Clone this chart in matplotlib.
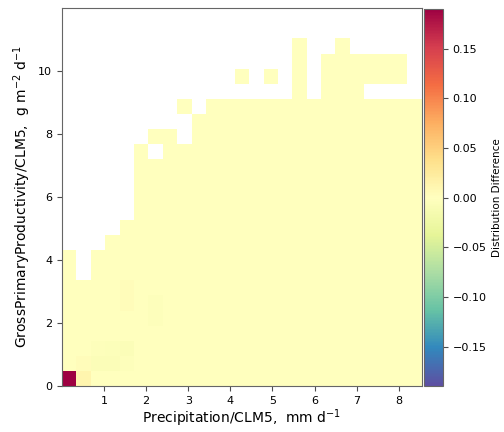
import numpy as np
import matplotlib
matplotlib.use("Agg")
import matplotlib.pyplot as plt

# histogram grid (precipitation bins x GPP bins)
precip_range = (0.0, 8.55)
gpp_range = (0.0, 12.0)
n_precip_bins = 25
n_gpp_bins = 25

# number of occupied GPP bins (from the bottom) in each precipitation column
column_tops = [9, 7, 9, 10, 11, 16, 17, 17, 19, 18, 19, 19, 21, 19, 21, 19,
               23, 19, 22, 23, 22, 22, 22, 22, 19]

# empty bins inside the occupied columns (column, row)
empty_bins = [(6, 15), (8, 16), (8, 17), (12, 19), (14, 19),
              (21, 19), (22, 19), (23, 19)]

# difference in every occupied bin unless listed below
background_diff = -0.0005

# bins with a visible difference (column, row, value)
diff_bins = [
    (0, 0, 0.19),
    (1, 0, 0.012), (1, 1, 0.004),
    (2, 1, -0.006), (3, 1, -0.007), (4, 1, -0.004),
    (3, 2, -0.005), (4, 2, -0.006), (2, 2, -0.003),
    (4, 5, 0.004), (4, 6, 0.003),
    (6, 4, -0.003), (6, 5, -0.003),
]

diff = np.full((n_gpp_bins, n_precip_bins), np.nan)
for col, top in enumerate(column_tops):
    diff[:top, col] = background_diff
for col, row in empty_bins:
    diff[row, col] = np.nan
for col, row, val in diff_bins:
    diff[row, col] = val

x_edges = np.linspace(*precip_range, n_precip_bins + 1)
y_edges = np.linspace(*gpp_range, n_gpp_bins + 1)

fig = plt.figure(figsize=(5.04, 4.32), dpi=100)
ax = fig.add_axes([0.123, 0.106, 0.714, 0.875])
cax = fig.add_axes([0.842, 0.106, 0.037, 0.873])

mesh = ax.pcolormesh(x_edges, y_edges, np.ma.masked_invalid(diff),
                     cmap="Spectral_r", vmin=-0.19, vmax=0.19)
ax.set_xlim(precip_range)
ax.set_ylim(gpp_range)
ax.set_xticks(range(1, 9))
ax.set_yticks(range(0, 11, 2))
ax.tick_params(labelsize=8, color="0.3")
for s in ax.spines.values():
    s.set_color("0.4")

ax.set_xlabel("Precipitation/CLM5,  mm d$^{-1}$", fontsize=10, labelpad=1)
ax.set_ylabel("GrossPrimaryProductivity/CLM5,  g m$^{-2}$ d$^{-1}$", fontsize=10)

cb = fig.colorbar(mesh, cax=cax)
cb.set_ticks([-0.15, -0.10, -0.05, 0.0, 0.05, 0.10, 0.15])
cb.ax.tick_params(labelsize=8, color="0.3")
cb.outline.set_edgecolor("0.4")
cb.set_label("Distribution Difference", fontsize=7.5)

fig.savefig("out.png", dpi=100)
